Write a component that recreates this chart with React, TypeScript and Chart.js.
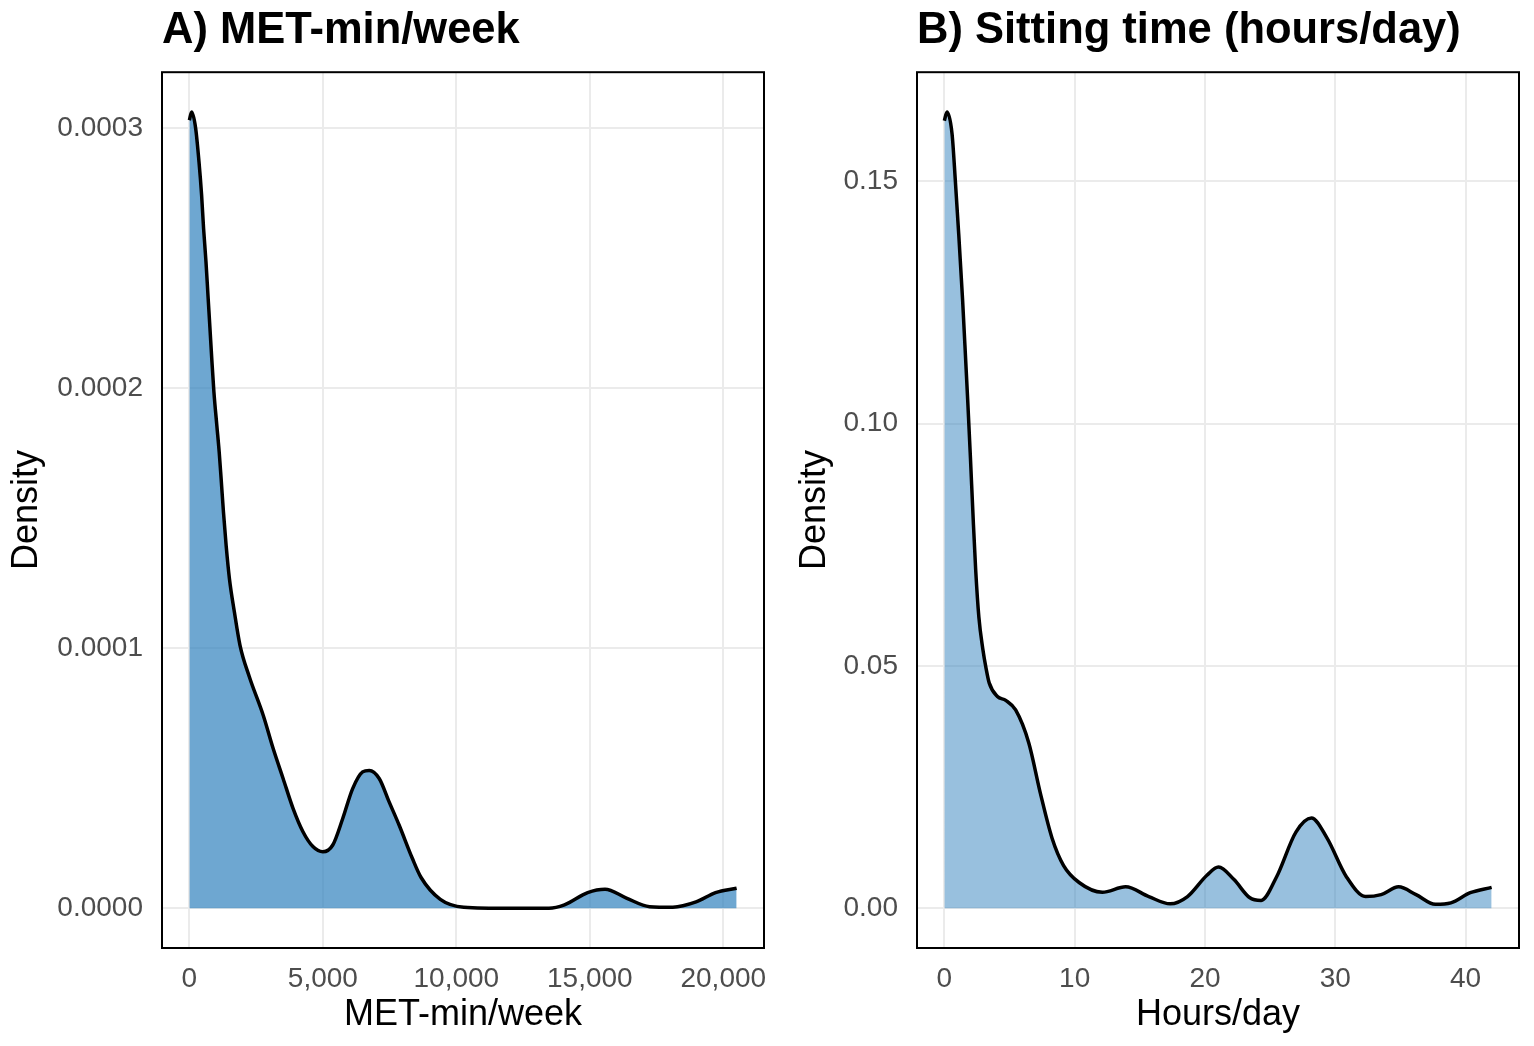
import React, { useEffect, useRef } from "react";
import Chart from "chart.js/auto";

// Panel A: MET-min/week density
const metX = [
  0, 86, 235, 361, 458, 532, 622, 696, 771, 845, 920, 1030, 1117, 1191, 1278, 1378,
  1502, 1688, 1899, 2246, 2766, 3139, 3511, 3883, 4255, 4628, 5000, 5372, 5745,
  6117, 6489, 6739, 7111, 7483, 7856, 8351, 8680, 9400, 10280, 12000, 13470, 14050,
  14920, 15570, 16370, 17240, 18110, 18980, 19710, 20500,
];
const metDensity = [
  0.000303, 0.0003062, 0.0003, 0.000287, 0.0002743, 0.0002615, 0.0002487, 0.0002359,
  0.0002231, 0.0002103, 0.0001985, 0.0001855, 0.0001755, 0.000165, 0.0001522,
  0.0001394, 0.0001266, 0.0001138, 0.000101, 0.000089, 0.0000742, 0.0000614,
  0.0000499, 0.0000384, 0.0000294, 0.0000237, 0.0000217, 0.0000243, 0.0000345,
  0.000046, 0.0000524, 0.000053, 0.0000499, 0.0000409, 0.000032, 0.0000192,
  0.0000118, 0.0000034, 0.0000004, 0, 0, 0.0000013, 0.000006, 0.0000073, 0.0000039,
  0.0000006, 0.0000004, 0.0000024, 0.000006, 0.0000077,
];
const metXTicks = [0, 5000, 10000, 15000, 20000];
const metYTicks = [0, 0.0001, 0.0002, 0.0003];

// Panel B: sitting time density
const sitX = [
  0, 0.2, 0.59, 0.84, 1.1, 1.4, 1.66, 1.79, 2.0, 2.2, 2.4, 2.65, 2.95, 3.2, 3.44,
  4.07, 4.71, 5.47, 6.48, 7.37, 8.26, 9.15, 10.34, 12.12, 13.91, 15.69, 17.33,
  18.66, 20.15, 21.04, 22.23, 23.42, 24.31, 25.5, 26.98, 28.17, 29.36, 30.85,
  32.33, 33.52, 34.86, 36.2, 37.68, 38.87, 40.36, 42.0,
];
const sitDensity = [
  0.1625, 0.1643, 0.1598, 0.1502, 0.1392, 0.1255, 0.1118, 0.1049, 0.093, 0.081,
  0.07, 0.06, 0.0535, 0.0495, 0.0465, 0.0437, 0.0429, 0.0409, 0.0341, 0.0237,
  0.0145, 0.0088, 0.0053, 0.0033, 0.0044, 0.0024, 0.0009, 0.0024, 0.0068, 0.0085,
  0.0059, 0.0022, 0.0016, 0.0065, 0.0157, 0.0186, 0.0145, 0.0065, 0.0024, 0.0028,
  0.0044, 0.0028, 0.0008, 0.0011, 0.0032, 0.0043,
];
const sitXTicks = [0, 10, 20, 30, 40];
const sitYTicks = [0, 0.05, 0.1, 0.15];

const FONT = "'Liberation Sans', Arial, Helvetica, sans-serif";

// black frame round the plotting panel
const panelBorder = {
  id: "panelBorder",
  afterDraw(chart: any) {
    const { ctx, chartArea: a } = chart;
    ctx.save();
    ctx.strokeStyle = "#000";
    ctx.lineWidth = 2;
    ctx.strokeRect(a.left, a.top, a.right - a.left, a.bottom - a.top);
    ctx.restore();
  },
};

interface PanelProps {
  title: string;
  xLabel: string;
  xs: number[];
  ys: number[];
  xTicks: number[];
  yTicks: number[];
  fill: string;
  yAxisWidth: number;
  yTitlePad: number;
  rightPad: number;
  formatX: (v: number) => string;
  formatY: (v: number) => string;
}

const DensityPanel: React.FC<PanelProps> = (p) => {
  const chartRef = useRef<HTMLCanvasElement | null>(null);

  useEffect(() => {
    if (!chartRef.current) return;
    const ctx = chartRef.current.getContext("2d");
    if (!ctx) return;

    const xMinD = Math.min(...p.xs);
    const xMaxD = Math.max(...p.xs);
    const yMaxD = Math.max(...p.ys);
    const xPad = (xMaxD - xMinD) * 0.05;
    const yPad = yMaxD * 0.05;

    const chart = new Chart(ctx, {
      type: "line",
      data: {
        datasets: [
          {
            data: p.xs.map((x, i) => ({ x, y: p.ys[i] })),
            borderColor: "#000",
            borderWidth: 3.5,
            backgroundColor: p.fill,
            fill: "origin",
            pointRadius: 0,
            cubicInterpolationMode: "monotone",
          },
        ],
      },
      options: {
        responsive: true,
        maintainAspectRatio: false,
        animation: false,
        layout: { padding: { left: 0, right: p.rightPad, top: 0, bottom: 0 } },
        plugins: {
          legend: { display: false },
          tooltip: { enabled: false },
          title: {
            display: true,
            text: p.title,
            align: "start",
            fullSize: false,
            color: "#000",
            font: { family: FONT, size: 43.5, weight: "bold" },
            padding: { top: 5, bottom: 15 },
          },
        },
        scales: {
          x: {
            type: "linear",
            min: xMinD - xPad,
            max: xMaxD + xPad,
            afterBuildTicks: (s: any) => {
              s.ticks = p.xTicks.map((v) => ({ value: v }));
            },
            afterFit: (s: any) => {
              s.height = 98;
              s.paddingLeft = 0;
              s.paddingRight = 0;
            },
            grid: { color: "#EBEBEB", lineWidth: 2, drawTicks: false },
            border: { display: false },
            ticks: {
              color: "#4D4D4D",
              font: { family: FONT, size: 28 },
              padding: 14,
              maxRotation: 0,
              autoSkip: false,
              callback: (v: any) => p.formatX(Number(v)),
            },
            title: {
              display: true,
              text: p.xLabel,
              color: "#000",
              font: { family: FONT, size: 36 },
              padding: { top: 0, bottom: 9 },
            },
          },
          y: {
            min: -yPad,
            max: yMaxD + yPad,
            afterBuildTicks: (s: any) => {
              s.ticks = p.yTicks.map((v) => ({ value: v }));
            },
            afterFit: (s: any) => {
              s.width = p.yAxisWidth;
              s.paddingTop = 0;
              s.paddingBottom = 0;
            },
            grid: { color: "#EBEBEB", lineWidth: 2, drawTicks: false },
            border: { display: false },
            ticks: {
              color: "#4D4D4D",
              font: { family: FONT, size: 28 },
              padding: 19,
              autoSkip: false,
              callback: (v: any) => p.formatY(Number(v)),
            },
            title: {
              display: true,
              text: "Density",
              color: "#000",
              font: { family: FONT, size: 36 },
              padding: { top: p.yTitlePad, bottom: 0 },
            },
          },
        },
      },
      plugins: [panelBorder],
    });

    return () => {
      chart.destroy();
    };
  }, [p]);

  return (
    <div style={{ position: "relative", width: "100%", height: "100%" }}>
      <canvas ref={chartRef}></canvas>
    </div>
  );
};

const App: React.FC = () => {
  return (
    <div
      style={{
        position: "fixed",
        left: 0,
        top: 0,
        width: 1534,
        height: 1046,
        background: "#fff",
      }}
    >
      <div style={{ position: "absolute", left: 0, top: 0, width: 780, height: 1046 }}>
        <DensityPanel
          title="A) MET-min/week"
          xLabel="MET-min/week"
          xs={metX}
          ys={metDensity}
          xTicks={metXTicks}
          yTicks={metYTicks}
          fill="rgba(49, 130, 189, 0.7)"
          yAxisWidth={162}
          yTitlePad={5}
          rightPad={16}
          formatX={(v) => v.toLocaleString("en-US")}
          formatY={(v) => v.toFixed(4)}
        />
      </div>
      <div style={{ position: "absolute", left: 780, top: 0, width: 754, height: 1046 }}>
        <DensityPanel
          title="B) Sitting time (hours/day)"
          xLabel="Hours/day"
          xs={sitX}
          ys={sitDensity}
          xTicks={sitXTicks}
          yTicks={sitYTicks}
          fill="rgba(49, 130, 189, 0.5)"
          yAxisWidth={137}
          yTitlePad={13}
          rightPad={15}
          formatX={(v) => String(v)}
          formatY={(v) => v.toFixed(2)}
        />
      </div>
    </div>
  );
};

export default App;
